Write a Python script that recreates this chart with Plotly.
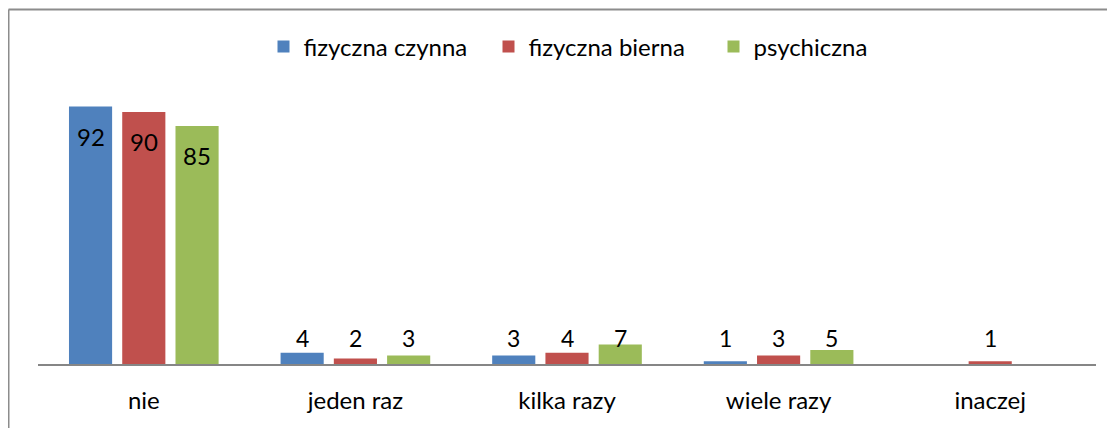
import plotly.graph_objects as go

categories = ["nie", "jeden raz", "kilka razy", "wiele razy", "inaczej"]
series_names = ["fizyczna czynna", "fizyczna bierna", "psychiczna"]
fizyczna_czynna = [92, 4, 3, 1, 0]
fizyczna_bierna = [90, 2, 4, 3, 1]
psychiczna = [85, 3, 7, 5, 0]
label_shown = [[True, True, True, True, False],
               [True, True, True, True, True],
               [True, True, True, True, False]]
colors = ["#4F81BD", "#C0504D", "#9BBB59"]

series = [fizyczna_czynna, fizyczna_bierna, psychiczna]
FONT = "Lato"

fig = go.Figure()
for name, vals, col in zip(series_names, series, colors):
    fig.add_trace(go.Bar(
        x=list(range(len(categories))), y=vals, name=name,
        marker=dict(color=col, line=dict(width=0)),
        hoverinfo="skip",
    ))

# page body has an 8px margin; work in reference pixels and shift
OFF = 8
W, H = 1115, 428
L = 38 - OFF
R = W - (1096 - OFF)
T = 84 - OFF
B = H - (364 - OFF)
pw = W - L - R
ph = H - T - B
bargap = 0.245
bargroupgap = 0.19
slot = (1 - bargap) / 3

annotations = []
for i, vals in enumerate(series):
    for j, v in enumerate(vals):
        if not label_shown[i][j]:
            continue
        if v > 20:
            y = v - 10.7
            size = 24
        else:
            y = 9.3
            size = 23
        annotations.append(dict(
            x=j + (i - 1) * slot, y=y, xref="x", yref="y",
            text=str(v), showarrow=False,
            font=dict(family=FONT, size=size, color="#000000"),
            xanchor="center", yanchor="middle",
        ))

def px2x(px):
    return (px - OFF - L) / pw

def py2y(py):
    return (H - B - (py - OFF)) / ph

shapes = [
    dict(type="line", xref="paper", yref="paper",
         x0=px2x(8.5), x1=px2x(8.5), y0=py2y(9.5), y1=py2y(460),
         line=dict(color="#8C8C8C", width=2)),
    dict(type="line", xref="paper", yref="paper",
         x0=px2x(8.5), x1=px2x(1140), y0=py2y(9.5), y1=py2y(9.5),
         line=dict(color="#8C8C8C", width=2)),
]

fig.update_layout(
    width=W, height=H,
    margin=dict(l=L, r=R, t=T, b=B, pad=0),
    paper_bgcolor="white", plot_bgcolor="white",
    barmode="group", bargap=bargap, bargroupgap=bargroupgap,
    font=dict(family=FONT, size=24, color="#000000"),
    showlegend=True,
    legend=dict(orientation="h", x=px2x(601), y=py2y(47),
                xanchor="center", yanchor="middle",
                font=dict(family=FONT, size=24, color="#000000"),
                itemwidth=30, traceorder="normal",
                entrywidth=180, entrywidthmode="pixels"),
    xaxis=dict(tickmode="array", tickvals=list(range(len(categories))),
               ticktext=categories, range=[-0.5, len(categories) - 0.5],
               showgrid=False, zeroline=False, showline=True,
               linecolor="#868686", linewidth=2, ticks="",
               ticklabelstandoff=14,
               tickfont=dict(family=FONT, size=24, color="#000000")),
    yaxis=dict(range=[0, 100], visible=False, showgrid=False,
               zeroline=False),
    annotations=annotations,
    shapes=shapes,
)

fig.write_html("out.html")
